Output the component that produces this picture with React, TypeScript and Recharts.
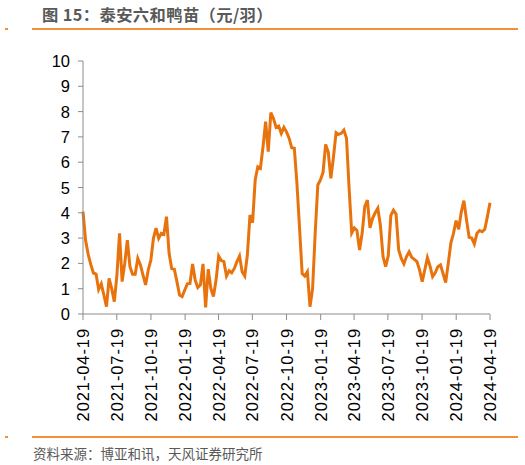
import React from "react";
import { LineChart, Line, XAxis, YAxis } from "recharts";

const START = "2021-04-19";
const END = "2024-04-19";

const tickDates = [
  "2021-04-19", "2021-07-19", "2021-10-19", "2022-01-19", "2022-04-19",
  "2022-07-19", "2022-10-19", "2023-01-19", "2023-04-19", "2023-07-19",
  "2023-10-19", "2024-01-19", "2024-04-19",
];

const yTicks = [0, 1, 2, 3, 4, 5, 6, 7, 8, 9, 10];

// Weekly duckling price (元/羽)
const price2021 = [
  4.05, 2.9, 2.35, 1.95, 1.62, 1.58, 0.97, 1.19, 0.75, 0.29,
  1.41, 1.0, 0.49, 1.54, 3.19, 1.28, 2.0, 2.92, 1.87, 1.57,
  1.57, 2.2, 1.94, 1.54, 1.15, 1.74, 2.13, 2.99, 3.39, 2.99,
  3.19, 3.15, 3.85, 2.4, 1.8, 1.77, 1.28, 0.75, 0.69, 0.95,
];
const price2022 = [
  1.19, 1.21, 1.98, 1.34, 1.05, 1.15, 1.98, 0.26, 1.77, 1.01,
  0.69, 1.34, 2.29, 2.11, 2.07, 1.5, 1.71, 1.63, 1.8, 2.07,
  2.29, 1.67, 1.5, 2.33, 3.91, 3.61, 5.3, 5.82, 5.76, 6.61,
  7.6, 6.42, 7.96, 7.73, 7.38, 7.43, 7.14, 7.38, 7.2, 6.95,
  6.57, 6.55, 5.16, 3.4, 1.6, 1.5, 1.67, 0.29, 1.0,
];
const price2023 = [
  3.2, 5.1, 5.3, 5.6, 6.7, 6.4, 5.36, 6.2, 7.17, 7.1,
  7.14, 7.27, 6.95, 4.97, 3.2, 3.4, 3.3, 2.53, 3.2, 4.24,
  4.5, 3.4, 3.78, 4.0, 4.18, 3.5, 2.27, 1.87, 2.3, 3.9,
  4.1, 3.95, 2.53, 2.2, 1.98, 2.27, 2.46, 2.24, 2.16, 2.07,
  1.74, 1.28, 1.74, 2.23, 1.9, 1.48, 1.63, 1.87, 1.94, 1.6,
  1.24,
];
const price2024 = [
  2.0, 2.8, 3.19, 3.69, 3.35, 4.04, 4.48, 3.72, 3.03, 3.0,
  2.77, 3.19, 3.3, 3.25, 3.35, 3.85, 4.4,
];

const DAY = 86400000;
const dayOf = (s: string) => {
  const [y, m, d] = s.split("-").map(Number);
  return Date.UTC(y, m - 1, d) / DAY;
};
const startDay = dayOf(START);
const span = dayOf(END) - startDay;
const values = [...price2021, ...price2022, ...price2023, ...price2024];
const data = values.map((v, i) => ({
  x: (i * span) / (values.length - 1),
  v,
}));
const xTicks = tickDates.map((d) => dayOf(d) - startDay);
const labelOf: Record<number, string> = {};
tickDates.forEach((d, i) => (labelOf[xTicks[i]] = d));

const XTick = (props: any) => {
  const { x, y, payload } = props;
  return (
    <text
      x={0}
      y={0}
      transform={`translate(${x + 6},${y + 6}) rotate(-90)`}
      textAnchor="end"
      fontSize={16.5}
      letterSpacing={0.9}
      fill="#000"
      fontFamily="'Liberation Sans', Arial, sans-serif"
    >
      {labelOf[payload.value]}
    </text>
  );
};

const YTick = (props: any) => {
  const { x, y, payload } = props;
  return (
    <text
      x={x - 6}
      y={y + 6}
      textAnchor="end"
      fontSize={16.5}
      fill="#000"
      fontFamily="'Liberation Sans', Arial, sans-serif"
    >
      {payload.value}
    </text>
  );
};

export default function App() {
  return (
    <div
      style={{
        position: "absolute",
        left: 0,
        top: 0,
        width: 525,
        height: 465,
        background: "#fff",
        overflow: "hidden",
      }}
    >
      <div
        style={{
          position: "absolute",
          left: 42,
          top: 4,
          fontSize: 16.3,
          letterSpacing: 0.4,
          fontWeight: 700,
          color: "#595959",
          fontFamily: "'Noto Sans CJK SC', sans-serif",
          whiteSpace: "nowrap",
          lineHeight: "20px",
        }}
      >
        图 15：泰安六和鸭苗（元/羽）
      </div>
      <div style={{ position: "absolute", left: 5, top: 28, width: 3, height: 2, background: "#F0913A" }} />
      <div style={{ position: "absolute", left: 32, top: 28, width: 486, height: 2, background: "#F0913A" }} />
      <div style={{ position: "absolute", left: 5, top: 436, width: 3, height: 2, background: "#F0913A" }} />
      <div style={{ position: "absolute", left: 32, top: 436, width: 486, height: 2, background: "#F0913A" }} />
      <div
        style={{
          position: "absolute",
          left: 33,
          top: 443,
          fontSize: 13.5,
          color: "#595959",
          fontFamily: "'Noto Sans CJK SC', sans-serif",
          whiteSpace: "nowrap",
          lineHeight: "20px",
        }}
      >
        资料来源：博亚和讯，天风证券研究所
      </div>
      <div style={{ position: "absolute", left: 0, top: 0 }}>
        <LineChart
          width={525}
          height={465}
          data={data}
          margin={{ top: 61, right: 35, bottom: 51, left: 43 }}
        >
          <XAxis
            dataKey="x"
            type="number"
            domain={[0, span]}
            ticks={xTicks}
            interval={0}
            height={100}
            stroke="#8c8c8c"
            tickSize={6}
            tick={<XTick />}
          />
          <YAxis
            type="number"
            domain={[0, 10]}
            ticks={yTicks}
            interval={0}
            width={40}
            stroke="#8c8c8c"
            tickSize={5}
            tick={<YTick />}
          />
          <Line
            type="linear"
            dataKey="v"
            stroke="#E8720C"
            strokeWidth={3}
            dot={false}
            isAnimationActive={false}
          />
        </LineChart>
      </div>
    </div>
  );
}
